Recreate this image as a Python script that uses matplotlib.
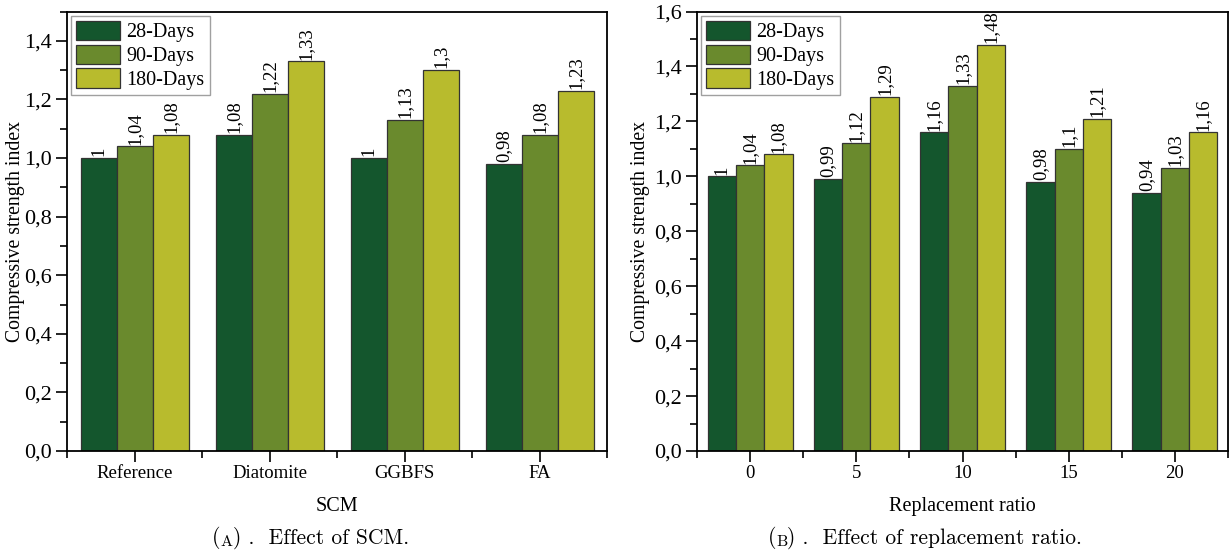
import matplotlib.pyplot as plt
import numpy as np
from matplotlib.ticker import MultipleLocator, FuncFormatter, FixedLocator

plt.rcParams['font.family'] = ['Liberation Serif', 'DejaVu Serif']

# data
series = ['28-Days', '90-Days', '180-Days']
colors = ['#14562d', '#6a8a2d', '#b8bb2d']

scm_cats = ['Reference', 'Diatomite', 'GGBFS', 'FA']
scm_28 = [1, 1.08, 1, 0.98]
scm_90 = [1.04, 1.22, 1.13, 1.08]
scm_180 = [1.08, 1.33, 1.3, 1.23]

ratio_cats = ['0', '5', '10', '15', '20']
ratio_28 = [1, 0.99, 1.16, 0.98, 0.94]
ratio_90 = [1.04, 1.12, 1.33, 1.1, 1.03]
ratio_180 = [1.08, 1.29, 1.48, 1.21, 1.16]


def comma(v, pos):
    return f'{v:.1f}'.replace('.', ',')


def lab(v):
    return f'{v:g}'.replace('.', ',')


def draw_panel(ax, cats, vals, ymax, xlabel, ylab_x):
    x = np.arange(len(cats))
    w = 0.8 / 3
    for i, (v, c, name) in enumerate(zip(vals, colors, series)):
        bars = ax.bar(x + (i - 1) * w, v, w, color=c, edgecolor='#333333',
                      linewidth=0.9, label=name)
        for b, val in zip(bars, v):
            ax.text(b.get_x() + b.get_width() / 2, b.get_height() + 0.006,
                    lab(val), rotation=90, ha='center', va='bottom', fontsize=13.5)
    ax.set_xlim(-0.5, len(cats) - 0.5)
    ax.set_ylim(0, ymax)
    ax.set_xticks(x)
    ax.set_xticklabels(cats, fontsize=13.5)
    ax.xaxis.set_minor_locator(FixedLocator(np.arange(-0.5, len(cats), 1.0)))
    ax.yaxis.set_major_locator(MultipleLocator(0.2))
    ax.yaxis.set_minor_locator(MultipleLocator(0.1))
    ax.yaxis.set_major_formatter(FuncFormatter(comma))
    ax.tick_params(axis='both', which='major', direction='out', length=8, width=1.2)
    ax.tick_params(axis='both', which='minor', direction='out', length=5, width=1.2)
    ax.tick_params(axis='x', which='major', labelsize=13.5, pad=2)
    ax.tick_params(axis='y', which='major', labelsize=16, pad=3)
    for s in ax.spines.values():
        s.set_linewidth(1.3)
    ax.set_xlabel(xlabel, fontsize=14.5, labelpad=11)
    ax.set_ylabel('Compressive strength index', fontsize=14.2)
    ax.yaxis.set_label_coords(ylab_x, 0.5)
    leg = ax.legend(loc='upper left', fontsize=14.5, handlelength=2.2,
                    handleheight=1.1, labelspacing=0.12, borderpad=0.25,
                    handletextpad=0.3, borderaxespad=0.2, fancybox=False)
    leg.get_frame().set_edgecolor('#888888')
    leg.get_frame().set_linewidth(1.0)


fig = plt.figure(figsize=(12.3, 5.5), dpi=100)
ax1 = fig.add_axes([0.0545, 0.18, 0.439, 0.799])
ax2 = fig.add_axes([0.5667, 0.18, 0.4317, 0.799])

draw_panel(ax1, scm_cats, [scm_28, scm_90, scm_180], 1.5, 'SCM', -0.078)
draw_panel(ax2, ratio_cats, [ratio_28, ratio_90, ratio_180], 1.6,
           'Replacement ratio', -0.088)


def caption(ax, xc, letter, rest):
    fam = 'cmr10'
    t1 = fig.text(0, 0.012, '(', fontsize=15.5, family=fam, va='baseline')
    t2 = ax.annotate(letter, xy=(1, 0), xycoords=t1, fontsize=11.5, family=fam,
                     va='bottom', annotation_clip=False)
    t3 = ax.annotate(') .  ' + rest, xy=(1, 0), xycoords=t2, fontsize=15.5,
                     family=fam, va='bottom', annotation_clip=False)
    fig.canvas.draw()
    r = fig.canvas.get_renderer()
    x0 = t1.get_window_extent(r).x0
    x1 = t3.get_window_extent(r).x1
    shift = xc * fig.bbox.width - (x0 + x1) / 2
    t1.set_x(shift / fig.bbox.width)


caption(ax1, 0.2525, 'A', 'Effect of SCM.')
caption(ax2, 0.752, 'B', 'Effect of replacement ratio.')

plt.savefig('out.png', dpi=100, facecolor='white')
plt.close()
